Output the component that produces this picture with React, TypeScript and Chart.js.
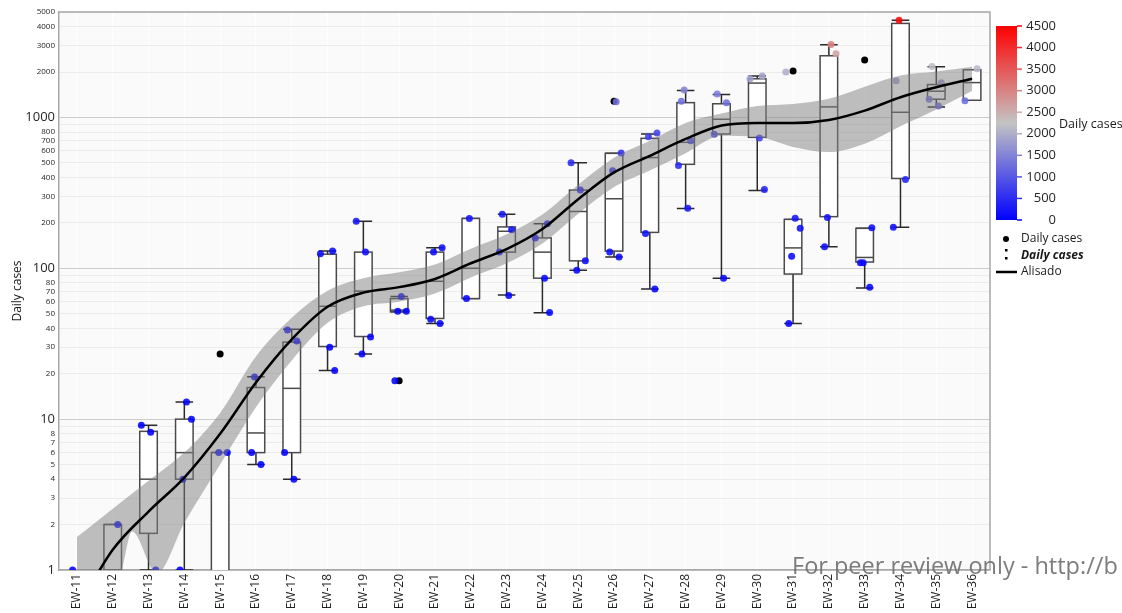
import React, { useEffect, useRef } from 'react';
import { Chart, registerables } from 'chart.js';

Chart.register(...registerables);

const FONT = "'Open Sans', 'Noto Sans', 'DejaVu Sans', sans-serif";

// Epidemiological weeks on the x axis
const WEEKS = [
  'EW-11', 'EW-12', 'EW-13', 'EW-14', 'EW-15', 'EW-16', 'EW-17', 'EW-18', 'EW-19',
  'EW-20', 'EW-21', 'EW-22', 'EW-23', 'EW-24', 'EW-25', 'EW-26', 'EW-27', 'EW-28',
  'EW-29', 'EW-30', 'EW-31', 'EW-32', 'EW-33', 'EW-34', 'EW-35', 'EW-36',
];
const FIRST_WEEK = 11;

// Box-plot summaries per week (null = no box)
const BOX_LOW = [null, 1, 1, 1, 0.5, 5, 4, 21, 27, 51.5, 43, 63, 66.5, 50.8, 97, 119, 72.8, 249, 86, 328, 43, 139, 74, 187, 1175, 1300];
const BOX_Q1 = [null, 1, 1.75, 4, 0.5, 6, 6, 30.3, 35.3, 51.5, 46.5, 63, 128, 86, 112, 130, 173, 489, 777, 738, 91.6, 220, 110, 394, 1321, 1300];
const BOX_MED = [null, 1, 4, 6, 0.5, 8.1, 16, 56, 70.6, 52.8, 82, 100, 176, 128, 238, 289, 542, 684, 973, 1690, 136.5, 1175, 118, 1082, 1493, 1702];
const BOX_Q3 = [null, 2, 8.3, 10, 6, 16.2, 32.4, 124, 128, 63, 128, 214, 188, 159, 330, 578, 727, 1253, 1232, 1804, 211, 2564, 184, 4200, 1652, 2070];
const BOX_HIGH = [null, 2, 9.1, 13, 6, 19.1, 39.5, 130, 205, 65, 137, 214, 228, 197, 501, 578, 777, 1507, 1420, 1880, 211, 3034, 184, 4400, 2167, 2070];

// Daily case counts per week (jittered dots)
const POINTS = [
  [1], [2], [9.1, 8.2, 1], [13, 10, 4, 1], [6, 6], [19, 6, 5], [39, 33, 6, 4],
  [130, 125, 30, 21], [205, 128, 35, 27], [65, 52, 52, 18], [137, 128, 46, 43],
  [214, 63], [228, 180, 128, 66], [197, 159, 86, 51], [500, 330, 112, 97],
  [1270, 582, 443, 128, 119], [790, 745, 170, 73], [1520, 1280, 700, 480, 250],
  [1430, 1250, 775, 86], [1880, 1805, 730, 333], [2000, 215, 184, 120, 43],
  [3040, 2640, 217, 139], [186, 109, 109, 75], [4400, 1750, 388, 187],
  [2180, 1700, 1320, 1190], [2100, 1290],
];

// Box-plot outliers per week
const OUTLIERS = [
  [], [], [], [], [27], [], [], [], [], [18], [], [], [], [], [], [1280], [], [], [],
  [], [2030], [], [2400], [], [], [],
];

// Smoothed trend ("Alisado") with its confidence band
const FIT_WEEK = [11, 12, 13, 14, 15, 16, 17, 18, 19, 20, 21, 22, 23, 24, 25, 26, 27, 28, 29, 30, 31, 32, 33, 34, 35, 36];
const FIT_VALUE = [0.55, 1.36, 2.44, 4.1, 8.0, 17.5, 33.8, 55.6, 69, 75, 85, 108, 134, 182, 287, 432, 557, 720, 883, 919, 919, 962, 1110, 1362, 1586, 1804];
const BAND_HIGH = [1.65, 2.55, 3.9, 6.0, 11, 26, 47, 71, 86, 94, 106, 135, 168, 227, 358, 540, 700, 920, 1060, 1190, 1230, 1330, 1600, 1900, 2020, 2170];
const BAND_LOW_WEEK = [11, 12, 12.26, 12.54, 13.23, 14, 15, 16, 17, 18, 19, 20, 21, 22, 23, 24, 25, 26, 27, 28, 29, 30, 31, 32, 33, 34, 35, 36];
const BAND_LOW = [0.2, 0.6, 1, 1.8, 0.95, 2.05, 5.0, 12, 24.5, 43.5, 56, 60, 68, 87, 108, 146, 230, 346, 445, 580, 756, 744, 638, 590, 670, 875, 1130, 1500];

// Log axis ticks
const Y_TICKS = [
  1, 2, 3, 4, 5, 6, 7, 8, 9,
  10, 20, 30, 40, 50, 60, 70, 80, 90,
  100, 200, 300, 400, 500, 600, 700, 800, 900,
  1000, 2000, 3000, 4000, 5000,
];
const Y_MAJOR = [1, 10, 100, 1000];
const Y_UNLABELLED = [9, 90, 900];

// Colour scale for the dots
const COLOR_TICKS = [0, 500, 1000, 1500, 2000, 2500, 3000, 3500, 4000, 4500];
const COLOR_MAX = 4500;

// drawing constants
const JITTER = [-0.12, 0.14, -0.2, 0.06, 0.2, -0.04];
const BOX_HALF = 0.245;

const LOW_RGB = [0, 0, 255];
const MID_RGB = [196, 196, 196];
const HIGH_RGB = [255, 0, 0];

function caseColor(v: number, alpha = 1): string {
  const t = Math.min(1, Math.max(0, v / COLOR_MAX));
  const from = t < 0.5 ? LOW_RGB : MID_RGB;
  const to = t < 0.5 ? MID_RGB : HIGH_RGB;
  const f = t < 0.5 ? t / 0.5 : (t - 0.5) / 0.5;
  const c = from.map((c0, k) => Math.round(c0 + (to[k] - c0) * f));
  return `rgba(${c[0]},${c[1]},${c[2]},${alpha})`;
}

// Plot panel background and frame
const panelPlugin = {
  id: 'panel',
  beforeDraw(chart: any) {
    const { ctx, chartArea: a } = chart;
    ctx.save();
    ctx.fillStyle = '#fafafa';
    ctx.fillRect(a.left, a.top, a.right - a.left, a.bottom - a.top);
    ctx.restore();
  },
  afterDatasetsDraw(chart: any) {
    const { ctx, chartArea: a } = chart;
    ctx.save();
    ctx.strokeStyle = '#a8a8a8';
    ctx.lineWidth = 1.5;
    ctx.beginPath();
    ctx.moveTo(a.left, a.top);
    ctx.lineTo(a.right, a.top);
    ctx.lineTo(a.right, a.bottom);
    ctx.stroke();
    ctx.restore();
  },
};

// Box plots (box, whiskers, caps, median) placed through the chart scales
const boxPlugin = {
  id: 'boxes',
  beforeDatasetsDraw(chart: any) {
    const { ctx, chartArea: a } = chart;
    const xs = chart.scales.x;
    const ys = chart.scales.y;
    ctx.save();
    ctx.beginPath();
    ctx.rect(a.left, a.top, a.right - a.left, a.bottom - a.top);
    ctx.clip();
    BOX_Q1.forEach((q1, i) => {
      if (q1 == null) return;
      const week = FIRST_WEEK + i;
      const x = xs.getPixelForValue(week);
      const xl = xs.getPixelForValue(week - BOX_HALF);
      const xr = xs.getPixelForValue(week + BOX_HALF);
      const yLow = ys.getPixelForValue(BOX_LOW[i]);
      const yQ1 = ys.getPixelForValue(q1);
      const yMed = ys.getPixelForValue(BOX_MED[i]);
      const yQ3 = ys.getPixelForValue(BOX_Q3[i]);
      const yHigh = ys.getPixelForValue(BOX_HIGH[i]);

      ctx.lineWidth = 1.5;
      ctx.strokeStyle = '#2a2a2a';
      ctx.beginPath();
      ctx.moveTo(x, yQ3);
      ctx.lineTo(x, yHigh);
      ctx.moveTo(x, yQ1);
      ctx.lineTo(x, yLow);
      ctx.moveTo(xl, yHigh);
      ctx.lineTo(xr, yHigh);
      ctx.moveTo(xl, yLow);
      ctx.lineTo(xr, yLow);
      ctx.stroke();

      ctx.fillStyle = '#ffffff';
      ctx.fillRect(xl, yQ3, xr - xl, yQ1 - yQ3);
      ctx.strokeStyle = '#4a4a4a';
      ctx.strokeRect(xl, yQ3, xr - xl, yQ1 - yQ3);
      ctx.beginPath();
      ctx.moveTo(xl, yMed);
      ctx.lineTo(xr, yMed);
      ctx.stroke();
    });
    ctx.restore();
  },
};

// Colour bar, legend keys and the footer note
const sidePlugin = {
  id: 'side',
  afterDraw(chart: any) {
    const { ctx } = chart;
    const barL = 996;
    const barR = 1017;
    const barT = 26;
    const barB = 220;
    ctx.save();
    const grad = ctx.createLinearGradient(0, barB, 0, barT);
    grad.addColorStop(0, caseColor(0));
    grad.addColorStop(0.5, caseColor(COLOR_MAX / 2));
    grad.addColorStop(1, caseColor(COLOR_MAX));
    ctx.fillStyle = grad;
    ctx.fillRect(barL, barT, barR - barL, barB - barT);

    ctx.font = `13px ${FONT}`;
    ctx.textAlign = 'right';
    ctx.textBaseline = 'middle';
    COLOR_TICKS.forEach((v) => {
      const yy = barB - (v / COLOR_MAX) * (barB - barT);
      ctx.strokeStyle = caseColor(v);
      ctx.lineWidth = 1.5;
      ctx.beginPath();
      ctx.moveTo(barR, yy);
      ctx.lineTo(barR + 5, yy);
      ctx.stroke();
      ctx.fillStyle = '#262626';
      ctx.fillText(String(v), 1056, yy);
    });

    ctx.textAlign = 'left';
    ctx.font = `12.5px ${FONT}`;
    ctx.fillStyle = '#1a1a1a';
    ctx.fillText('Daily cases', 1059, 124);

    // legend keys
    ctx.fillStyle = '#000';
    ctx.beginPath();
    ctx.arc(1006, 239, 3, 0, Math.PI * 2);
    ctx.fill();
    ctx.fillRect(1005, 249, 2.5, 2.5);
    ctx.fillRect(1005, 257, 2.5, 2.5);
    ctx.strokeStyle = '#000';
    ctx.lineWidth = 2.5;
    ctx.beginPath();
    ctx.moveTo(996, 272);
    ctx.lineTo(1017, 272);
    ctx.stroke();

    ctx.fillStyle = '#1a1a1a';
    ctx.font = `12px ${FONT}`;
    ctx.fillText('Daily cases', 1021, 239);
    ctx.font = `italic bold 12px ${FONT}`;
    ctx.fillText('Daily cases', 1021, 256);
    ctx.font = `12px ${FONT}`;
    ctx.fillText('Alisado', 1021, 272);

    ctx.font = `23.5px ${FONT}`;
    ctx.fillStyle = 'rgba(110,110,110,0.9)';
    ctx.textBaseline = 'alphabetic';
    ctx.fillText('For peer review only - http://b', 792, 574);
    ctx.restore();
  },
};

export default function App() {
  const canvasRef = useRef<HTMLCanvasElement | null>(null);

  useEffect(() => {
    document.body.style.margin = '0';
    document.body.style.overflow = 'hidden';
    const canvas = canvasRef.current;
    if (!canvas) return;

    const pointData = POINTS.flatMap((vals, i) =>
      vals.map((v, j) => ({ x: FIRST_WEEK + i + JITTER[(i + j) % JITTER.length], y: v })),
    );
    const outlierData = OUTLIERS.flatMap((vals, i) => vals.map((v) => ({ x: FIRST_WEEK + i, y: v })));

    const chart = new Chart(canvas, {
      type: 'scatter',
      data: {
        datasets: [
          {
            type: 'scatter',
            data: outlierData,
            pointRadius: 3.5,
            pointBackgroundColor: '#000',
            pointBorderWidth: 0,
            clip: 0,
            order: 5,
          },
          {
            type: 'scatter',
            data: pointData,
            pointRadius: 3.5,
            pointBackgroundColor: (c: any) => caseColor(c.raw ? c.raw.y : 0, 0.88),
            pointBorderWidth: 0,
            clip: 0,
            order: 4,
          },
          {
            type: 'line',
            data: FIT_WEEK.map((w, i) => ({ x: w, y: BAND_HIGH[i] })),
            borderWidth: 0,
            borderColor: 'rgba(0,0,0,0)',
            backgroundColor: 'rgba(128,128,128,0.5)',
            pointRadius: 0,
            fill: '+1',
            cubicInterpolationMode: 'monotone',
            clip: 0,
            order: 3,
          },
          {
            type: 'line',
            data: BAND_LOW_WEEK.map((w, i) => ({ x: w, y: BAND_LOW[i] })),
            borderWidth: 0,
            borderColor: 'rgba(0,0,0,0)',
            pointRadius: 0,
            fill: false,
            cubicInterpolationMode: 'monotone',
            clip: 0,
            order: 3,
          },
          {
            type: 'line',
            data: FIT_WEEK.map((w, i) => ({ x: w, y: FIT_VALUE[i] })),
            borderWidth: 2.5,
            borderColor: '#000',
            pointRadius: 0,
            fill: false,
            cubicInterpolationMode: 'monotone',
            clip: 0,
            order: 1,
          },
        ] as any,
      },
      options: {
        responsive: false,
        animation: false,
        events: [],
        layout: { padding: { left: 0, top: 12, right: 132, bottom: 0 } },
        plugins: {
          legend: { display: false },
          tooltip: { enabled: false },
          title: { display: false },
        },
        scales: {
          x: {
            type: 'linear',
            min: FIRST_WEEK - 0.5,
            max: FIRST_WEEK + WEEKS.length - 0.5,
            offset: false,
            afterBuildTicks: (s: any) => {
              s.ticks = WEEKS.map((_, i) => ({ value: FIRST_WEEK + i }));
            },
            grid: { offset: false, color: '#ffffff', lineWidth: 1, drawTicks: false },
            border: { color: '#a8a8a8', width: 1.5 },
            ticks: {
              autoSkip: false,
              minRotation: 90,
              maxRotation: 90,
              padding: 4,
              color: '#222',
              font: { family: FONT, size: 12 },
              callback: (v: any) => WEEKS[Number(v) - FIRST_WEEK] ?? '',
            },
            afterFit: (s: any) => {
              s.height = 43;
            },
          },
          y: {
            type: 'logarithmic',
            min: 1,
            max: 5000,
            afterBuildTicks: (s: any) => {
              s.ticks = Y_TICKS.map((v) => ({ value: v, major: Y_MAJOR.includes(v) }));
            },
            afterFit: (s: any) => {
              s.width = 59;
            },
            border: { color: '#a8a8a8', width: 1.5 },
            grid: {
              color: (c: any) => (c.tick && Y_MAJOR.includes(c.tick.value) ? '#cdcdcd' : '#ebebeb'),
              lineWidth: 1,
              drawTicks: false,
            },
            ticks: {
              autoSkip: false,
              padding: 4,
              color: '#262626',
              font: (c: any) =>
                c.tick && Y_MAJOR.includes(c.tick.value)
                  ? { family: FONT, size: 13 }
                  : { family: FONT, size: 8 },
              callback: (v: any) => (Y_UNLABELLED.includes(Number(v)) ? '' : String(v)),
            },
            title: {
              display: true,
              text: 'Daily cases',
              color: '#1a1a1a',
              font: { family: FONT, size: 12 },
              padding: { top: 10, bottom: 0 },
            },
          },
        },
      } as any,
      plugins: [panelPlugin, boxPlugin, sidePlugin],
    });

    return () => {
      chart.destroy();
    };
  }, []);

  return <canvas ref={canvasRef} width={1122} height={613} style={{ display: 'block' }} />;
}
